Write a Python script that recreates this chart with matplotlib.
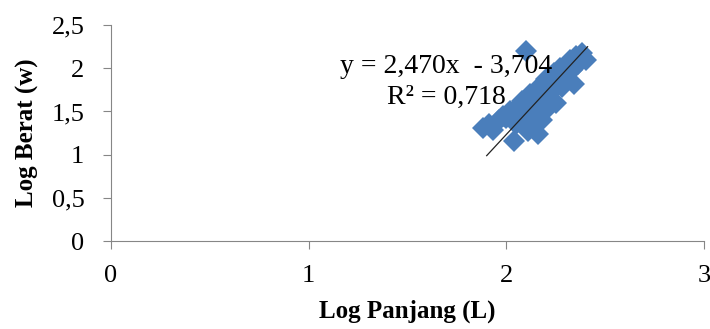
import numpy as np
import matplotlib
matplotlib.use("Agg")
import matplotlib.pyplot as plt

plt.rcParams['font.family'] = ['Liberation Serif', 'DejaVu Serif']

# log length vs log weight
log_L = [1.88, 1.91, 1.93, 1.96, 1.98, 2.00, 2.02, 2.04, 2.05, 2.06,
         2.07, 2.08, 2.10, 2.10, 2.11, 2.12, 2.12, 2.13, 2.14, 2.15,
         2.15, 2.16, 2.17, 2.18, 2.18, 2.19, 2.20, 2.20, 2.21, 2.22,
         2.23, 2.24, 2.25, 2.26, 2.27, 2.28, 2.29, 2.30, 2.31, 2.32,
         2.33, 2.34, 2.35, 2.36, 2.38, 2.40]
log_W = [1.31, 1.36, 1.28, 1.40, 1.45, 1.42, 1.50, 1.16, 1.35, 1.55,
         1.48, 1.62, 2.20, 1.42, 1.27, 1.70, 1.55, 1.32, 1.47, 1.65,
         1.75, 1.24, 1.58, 1.80, 1.40, 1.68, 1.88, 1.52, 1.62, 1.85,
         1.74, 1.94, 1.60, 1.88, 2.00, 1.78, 1.92, 2.04, 1.86, 2.10,
         1.98, 1.82, 2.14, 2.05, 2.18, 2.10]

slope = 2.470
intercept = -3.704
x_ticks = [0, 1, 2, 3]
y_ticks = [0, 0.5, 1, 1.5, 2, 2.5]
y_tick_labels = ['0', '0,5', '1', '1,5', '2', '2,5']

fig = plt.figure(figsize=(7.1, 3.29), dpi=100)
ax = fig.add_axes([0.156, 0.267, 0.836, 0.657])

ax.plot(log_L, log_W, linestyle='none', marker='D', markersize=11.5,
        color='#4a7ebb', markeredgewidth=0, zorder=2)

xl = np.array([1.90, 2.41])
ax.plot(xl, slope * xl + intercept, color='#222222', lw=0.9, zorder=3)

ax.text(0.565, 0.81, 'y = 2,470x  - 3,704', transform=ax.transAxes,
        ha='center', va='center', fontsize=20)
ax.text(0.565, 0.665, 'R² = 0,718', transform=ax.transAxes,
        ha='center', va='center', fontsize=20)

ax.set_xlim(0, 3)
ax.set_ylim(0, 2.5)
ax.set_xticks(x_ticks)
ax.set_xticklabels([str(t) for t in x_ticks])
ax.set_yticks(y_ticks)
ax.set_yticklabels(y_tick_labels)

for s in ['top', 'right']:
    ax.spines[s].set_visible(False)
for s in ['left', 'bottom']:
    ax.spines[s].set_color('#868686')
ax.tick_params(axis='both', colors='#868686', labelcolor='black',
               labelsize=19, length=6)
ax.tick_params(axis='y', pad=13)
ax.tick_params(axis='x', pad=11)

ax.set_xlabel('Log Panjang (L)', fontsize=18, fontweight='bold', labelpad=9)
ax.set_ylabel('Log Berat (w)', fontsize=18, fontweight='bold', labelpad=9)

fig.savefig('out.png', dpi=100)
